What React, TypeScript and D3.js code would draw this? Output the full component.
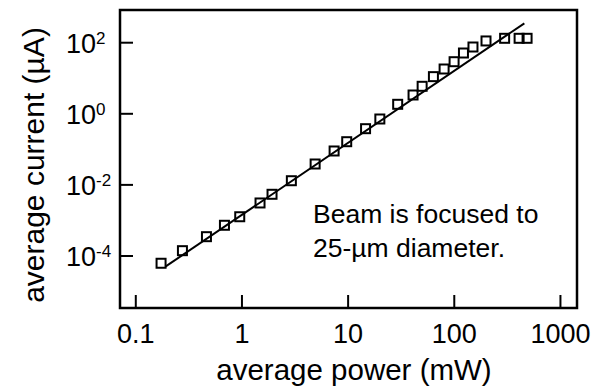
import React from "react";
import * as d3 from "d3";

const powerMW = [0.173, 0.275, 0.463, 0.684, 0.953, 1.48, 1.92, 2.92, 4.89, 7.38, 9.7, 14.6, 19.9, 29.3, 40.9, 49.8, 63.6, 80.2, 99.6, 122, 150, 199, 298, 408, 485];
const currentUA = [6.24e-5, 1.41e-4, 3.49e-4, 7.31e-4, 1.27e-3, 3.1e-3, 5.44e-3, 0.0131, 0.0387, 0.0899, 0.164, 0.381, 0.714, 1.85, 3.38, 5.94, 11.1, 18.2, 29.2, 51.3, 75.7, 112, 133, 133, 133];
const fitPower = [0.19, 457];
const fitCurrent = [5.0e-5, 351];
const xTicks = [0.1, 1, 10, 100, 1000];
const xTickLabels = ["0.1", "1", "10", "100", "1000"];
const yTicks = [1e-4, 1e-2, 1, 1e2];
const yTickExponents = ["-4", "-2", "0", "2"];
const xDomain = [0.071, 1432];
const yDomain = [3.44e-6, 832];
const annotation = ["Beam is focused to", "25-\u00b5m diameter."];
const xTitle = "average power (mW)";
const yTitle = "average current (\u00b5A)";

const W = 601, H = 392;
const L = 120, R = 577, T = 10, B = 308;
const FONT = "'Liberation Sans', Arial, Helvetica, sans-serif";

export default function App() {
  const x = d3.scaleLog().domain(xDomain).range([L, R]);
  const y = d3.scaleLog().domain(yDomain).range([B, T]);
  const line = d3.line<number>().x((d, i) => x(fitPower[i])).y((d, i) => y(fitCurrent[i]));
  const ms = 9;
  return (
    <svg width={W} height={H} style={{ position: "absolute", left: 0, top: 0, background: "#fff" }} fontFamily={FONT}>
      <rect x={L} y={T} width={R - L} height={B - T} fill="none" stroke="#000" strokeWidth={2.5} />
      {xTicks.map((t, i) => (
        <g key={"x" + i}>
          <line x1={x(t)} x2={x(t)} y1={B} y2={B - 13} stroke="#000" strokeWidth={2} />
          <text x={x(t)} y={343} fontSize={27} textAnchor="middle">{xTickLabels[i]}</text>
        </g>
      ))}
      {yTicks.map((t, i) => (
        <g key={"y" + i}>
          <line x1={L} x2={L + 13} y1={y(t)} y2={y(t)} stroke="#000" strokeWidth={2} />
          <text x={66} y={y(t) + 10} fontSize={27} textAnchor="start">
            10<tspan fontSize={17} dy={-9}>{yTickExponents[i]}</tspan>
          </text>
        </g>
      ))}
      <path d={line(fitPower) || ""} fill="none" stroke="#000" strokeWidth={2} />
      {powerMW.map((p, i) => (
        <rect key={"m" + i} x={x(p) - ms / 2} y={y(currentUA[i]) - ms / 2} width={ms} height={ms} fill="none" stroke="#000" strokeWidth={2} />
      ))}
      <text x={313} y={223} fontSize={26.5}>{annotation[0]}</text>
      <text x={313} y={257} fontSize={26.5}>{annotation[1]}</text>
      <text x={354} y={380} fontSize={29.5} textAnchor="middle">{xTitle}</text>
      <text transform={`translate(44,165) rotate(-90)`} fontSize={30} textAnchor="middle">{yTitle}</text>
    </svg>
  );
}
